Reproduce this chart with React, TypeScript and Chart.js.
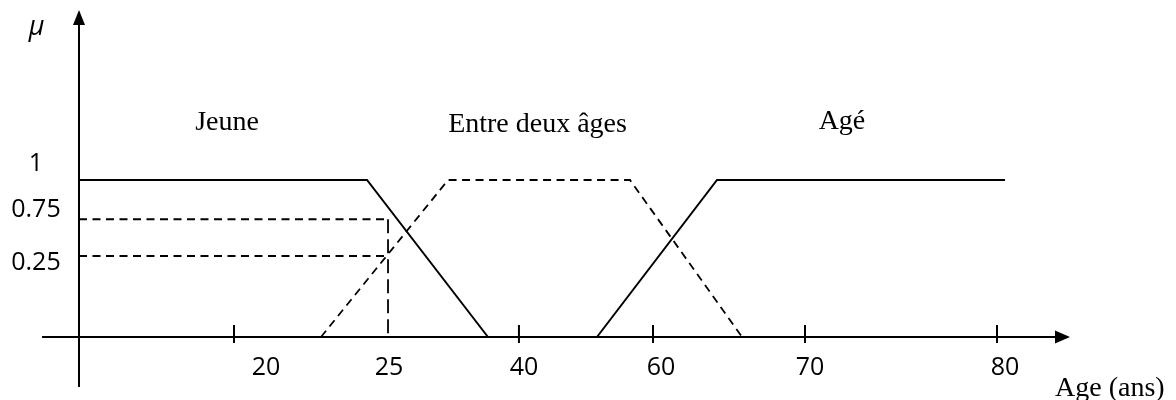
import React, { useEffect, useRef } from 'react';
import { Chart, registerables } from 'chart.js';

Chart.register(...registerables);

// ---- Data (diagram units: x = horizontal position where the y-axis is 0 and the "80" tick is 80; y = membership μ) ----
const jeuneX = [0, 25.1, 35.64];
const jeuneY = [1, 1, 0];

const entreX = [21.09, 32.16, 48.02, 57.78];
const entreY = [0, 1, 1, 0];

const ageX = [45.14, 55.6, 80.7];
const ageY = [0, 1, 1];

// reading at age 25
const readX = 26.93;
const readLevels = [0.75, 0.516];

// x axis tick marks & labels
const xTickMarks = [13.51, 38.34, 50.02, 63.27, 80];
const xTickLabels = ['20', '25', '40', '60', '70', '80'];
const xTickLabelAt = [16.3, 27.02, 38.78, 50.72, 63.7, 80.7];
const xTickLabelBaseline = -0.242;

// y axis labels
const yTickLabels = ['1', '0.75', '0.25'];
const yTickLabelBaselines = [1.057, 0.764, 0.427];
const yTickLabelX = -3.75;

// set names
const setNames = ['Jeune', 'Entre deux âges', 'Agé'];
const setNameX = [12.9, 39.96, 66.49];
const setNameY = [1.318, 1.306, 1.325];

// axis extents
const xAxisFrom = -3.22;
const xAxisTo = 86.36;
const yAxisFrom = -0.318;
const yAxisTo = 2.083;

const toPts = (xs: number[], ys: number[]) => xs.map((x, i) => ({ x, y: ys[i] }));

const diagramPlugin = {
  id: 'diagram',
  beforeDatasetsDraw(chart: any) {
    const { ctx } = chart;
    const sx = chart.scales.x;
    const sy = chart.scales.y;
    const X = (v: number) => sx.getPixelForValue(v);
    const Y = (v: number) => sy.getPixelForValue(v);
    ctx.save();
    ctx.strokeStyle = '#000';
    ctx.fillStyle = '#000';
    ctx.lineWidth = 2;
    ctx.setLineDash([]);
    // x axis
    const y0 = Y(0);
    const xEnd = X(xAxisTo);
    ctx.beginPath();
    ctx.moveTo(X(xAxisFrom), y0);
    ctx.lineTo(xEnd - 14, y0);
    ctx.stroke();
    ctx.beginPath();
    ctx.moveTo(xEnd, y0);
    ctx.lineTo(xEnd - 15, y0 - 6.5);
    ctx.lineTo(xEnd - 15, y0 + 6.5);
    ctx.closePath();
    ctx.fill();
    // y axis
    const x0 = X(0);
    const yEnd = Y(yAxisTo);
    ctx.beginPath();
    ctx.moveTo(x0, Y(yAxisFrom));
    ctx.lineTo(x0, yEnd + 14);
    ctx.stroke();
    ctx.beginPath();
    ctx.moveTo(x0, yEnd);
    ctx.lineTo(x0 - 6, yEnd + 15);
    ctx.lineTo(x0 + 6, yEnd + 15);
    ctx.closePath();
    ctx.fill();
    // tick marks
    ctx.lineWidth = 2;
    xTickMarks.forEach((t) => {
      const p = X(t);
      ctx.beginPath();
      ctx.moveTo(p, y0 - 12);
      ctx.lineTo(p, y0 + 6);
      ctx.stroke();
    });
    ctx.restore();
  },
  afterDatasetsDraw(chart: any) {
    const { ctx } = chart;
    const sx = chart.scales.x;
    const sy = chart.scales.y;
    const X = (v: number) => sx.getPixelForValue(v);
    const Y = (v: number) => sy.getPixelForValue(v);
    ctx.save();
    ctx.fillStyle = '#000';
    ctx.textBaseline = 'alphabetic';
    // x tick labels
    ctx.font = "25px 'Open Sans'";
    ctx.textAlign = 'center';
    xTickLabels.forEach((l, i) => {
      ctx.fillText(l, X(xTickLabelAt[i]), Y(xTickLabelBaseline));
    });
    // y tick labels
    yTickLabels.forEach((l, i) => {
      ctx.fillText(l, X(yTickLabelX), Y(yTickLabelBaselines[i]));
    });
    // mu
    ctx.font = "italic 27px 'Open Sans'";
    ctx.fillText('μ', X(-3.7), Y(1.922));
    // set names
    ctx.font = "28px 'Liberation Serif'";
    setNames.forEach((n, i) => {
      ctx.fillText(n, X(setNameX[i]), Y(setNameY[i]));
    });
    // axis title
    ctx.textAlign = 'left';
    ctx.fillText('Age (ans)', X(85.06), Y(-0.373));
    ctx.restore();
  },
};

export default function App() {
  const ref = useRef<HTMLCanvasElement | null>(null);
  useEffect(() => {
    if (!ref.current) return;
    const solid = { borderColor: '#000', borderWidth: 2, pointRadius: 0, showLine: true, fill: false, tension: 0 };
    const dashed = { ...solid, borderWidth: 1.8, borderDash: [8, 5.5] };
    const chart = new Chart(ref.current, {
      type: 'scatter',
      data: {
        datasets: [
          { label: 'Jeune', data: toPts(jeuneX, jeuneY), ...solid },
          { label: 'Entre deux âges', data: toPts(entreX, entreY), ...dashed },
          { label: 'Agé', data: toPts(ageX, ageY), ...solid },
          { label: 'μ=0.75', data: [{ x: 0, y: readLevels[0] }, { x: readX, y: readLevels[0] }], ...dashed },
          { label: 'μ=0.25', data: [{ x: 0, y: readLevels[1] }, { x: readX, y: readLevels[1] }], ...dashed },
          { label: 'age 25', data: [{ x: readX, y: readLevels[0] }, { x: readX, y: 0 }], ...dashed, borderDash: [14, 6] },
        ],
      },
      options: {
        animation: false,
        responsive: true,
        maintainAspectRatio: false,
        layout: { padding: 0 },
        plugins: { legend: { display: false }, tooltip: { enabled: false } },
        scales: {
          x: { type: 'linear', min: -6.8845, max: 95.6, display: false },
          y: { type: 'linear', min: -0.4013, max: 2.1465, display: false },
        },
      },
      plugins: [diagramPlugin],
    });
    return () => chart.destroy();
  }, []);
  return (
    <div style={{ position: 'fixed', left: 0, top: 0, width: 1176, height: 400, background: '#fff' }}>
      <canvas ref={ref} />
    </div>
  );
}
